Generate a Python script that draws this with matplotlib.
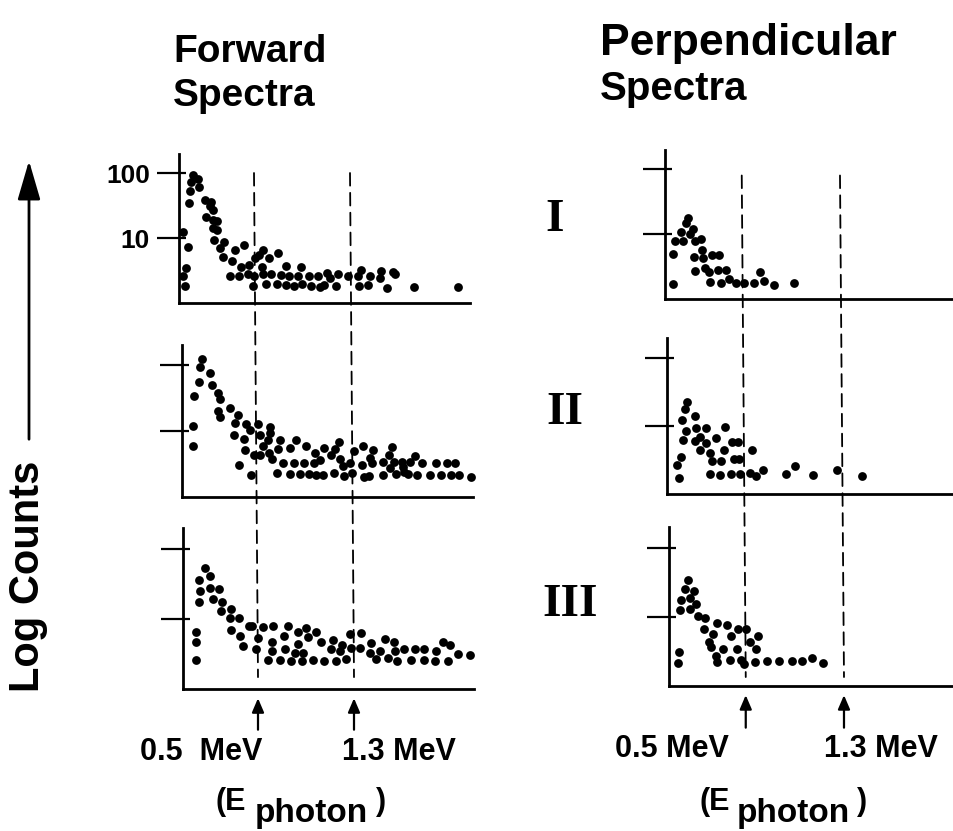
import matplotlib

matplotlib.use("Agg")
import matplotlib.pyplot as plt
from matplotlib.patches import ConnectionPatch, FancyArrowPatch


plt.rcParams["font.family"] = ["Liberation Sans", "DejaVu Sans"]
plt.rcParams["font.weight"] = "bold"

FIG_W, FIG_H = 954, 831

# x axis is in analyser channels, y axis in log10(counts)
X_MAX = 97
Y_MAX = 2.3
MARKER_CHANNELS = [25, 57]          # 0.5 MeV and 1.3 MeV
MARKER_LABELS = ["0.5  MeV", "1.3 MeV"]
ROW_LABELS = ["I", "II", "III"]
Y_TICKS = [1, 2]
Y_TICK_LABELS = ["10", "100"]

# ---- Forward spectra ----
fwd1_ch = [4.6, 6.2, 3.9, 6.8, 3.7, 3.3, 8.7, 10.7, 10.3, 11.2, 9.0, 11.4, 12.6, 11.2, 12.8,
           11.8, 15.0, 13.7, 14.6, 17.6, 18.7, 21.7, 20.6, 23.4, 25.3, 26.8, 27.9, 30.1, 33.1,
           27.6, 17.0, 20.1, 23.1, 25.0, 24.8, 28.1, 30.7, 29.0, 32.6, 33.9, 35.6, 36.8, 35.7,
           38.4, 39.8, 40.9, 40.6, 43.4, 43.9, 46.4, 47.0, 48.3, 49.2, 50.3, 52.3, 53.0, 56.4,
           59.8, 60.6, 60.1, 63.7, 63.1, 67.3, 67.0, 69.2, 71.2, 72.0, 78.3, 93.1,
           1.4, 3.1, 2.3, 1.4, 2.0]
fwd1_log = [1.97, 1.91, 1.86, 1.78, 1.72, 1.54, 1.58, 1.55, 1.49, 1.43, 1.32, 1.28, 1.26, 1.15,
            1.12, 0.97, 0.94, 0.85, 0.71, 0.64, 0.81, 0.90, 0.56, 0.59, 0.69, 0.74, 0.81, 0.69,
            0.77, 0.55, 0.42, 0.41, 0.44, 0.42, 0.26, 0.44, 0.45, 0.29, 0.29, 0.43, 0.28, 0.42,
            0.57, 0.26, 0.42, 0.30, 0.56, 0.41, 0.26, 0.42, 0.25, 0.27, 0.46, 0.39, 0.26, 0.45,
            0.42, 0.42, 0.51, 0.26, 0.42, 0.27, 0.50, 0.39, 0.23, 0.47, 0.45, 0.24, 0.24,
            1.10, 0.86, 0.54, 0.41, 0.26]

fwd2_ch = [6.7, 5.9, 5.6, 4.1, 3.7, 3.7, 9.2, 10.1, 11.9, 12.6, 12.0, 12.8, 15.9, 18.7, 17.8,
           17.2, 21.4, 22.6, 20.6, 20.9, 18.9, 23.0, 25.2, 26.1, 23.9, 25.9, 29.2, 29.2, 28.6,
           27.0, 28.9, 30.0, 31.9, 32.6, 33.7, 31.7, 35.9, 37.4, 38.1, 35.9, 39.4, 40.6, 41.2,
           42.2, 43.9, 44.2, 46.1, 44.8, 47.0, 47.4, 49.7, 50.8, 52.2, 51.1, 52.6, 53.7, 54.1,
           56.1, 56.7, 57.4, 60.3, 60.0, 60.6, 62.2, 62.6, 63.7, 63.3, 67.0, 67.0, 68.9, 70.0,
           69.2, 70.8, 71.4, 73.3, 73.7, 74.1, 75.2, 76.1, 77.8, 80.0, 78.3, 82.6, 84.8, 86.4,
           88.3, 89.8, 91.1, 92.2, 96.3]
fwd2_log = [2.09, 1.97, 1.74, 1.53, 1.08, 0.78, 1.88, 1.69, 1.58, 1.48, 1.31, 1.21, 1.35, 1.25,
            1.12, 0.94, 1.10, 1.01, 0.88, 0.71, 0.48, 0.34, 1.10, 0.94, 0.63, 0.63, 1.06, 0.97,
            0.86, 0.78, 0.67, 0.57, 0.73, 0.87, 0.52, 0.37, 0.74, 0.52, 0.86, 0.35, 0.35, 0.52,
            0.78, 0.35, 0.52, 0.67, 0.56, 0.33, 0.33, 0.74, 0.63, 0.37, 0.83, 0.73, 0.57, 0.47,
            0.32, 0.52, 0.37, 0.69, 0.77, 0.49, 0.30, 0.32, 0.59, 0.71, 0.51, 0.53, 0.33, 0.64,
            0.76, 0.44, 0.53, 0.35, 0.53, 0.45, 0.38, 0.35, 0.53, 0.62, 0.51, 0.34, 0.34, 0.51,
            0.34, 0.51, 0.34, 0.51, 0.33, 0.30]

fwd3_ch = [7.2, 5.3, 5.6, 5.3, 8.9, 8.9, 12.0, 10.0, 13.1, 12.8, 15.9, 15.6, 18.7, 16.1, 19.1,
           20.0, 22.0, 23.1, 24.2, 25.0, 26.7, 30.0, 29.6, 29.8, 28.3, 32.4, 33.6, 33.9, 35.0,
           36.1, 38.3, 38.3, 37.2, 40.0, 39.8, 41.1, 41.7, 44.2, 43.3, 46.1, 46.9, 50.0, 49.4,
           51.1, 52.2, 53.1, 54.4, 55.8, 56.1, 59.4, 58.9, 62.2, 62.8, 64.2, 65.6, 67.2, 68.3,
           70.2, 70.6, 71.3, 73.6, 76.1, 77.2, 80.2, 80.2, 84.2, 83.9, 86.7, 88.3, 88.9, 91.7,
           95.8, 4.4, 4.2, 4.4]
fwd3_log = [1.73, 1.56, 1.40, 1.24, 1.62, 1.44, 1.43, 1.28, 1.25, 1.11, 1.14, 1.01, 1.01, 0.85,
            0.76, 0.62, 0.90, 0.90, 0.57, 0.73, 0.89, 0.90, 0.67, 0.54, 0.41, 0.42, 0.76, 0.57,
            0.90, 0.40, 0.81, 0.65, 0.51, 0.51, 0.40, 0.87, 0.75, 0.81, 0.41, 0.67, 0.40, 0.70,
            0.57, 0.40, 0.54, 0.63, 0.43, 0.78, 0.59, 0.80, 0.59, 0.52, 0.66, 0.43, 0.55, 0.71,
            0.45, 0.67, 0.55, 0.40, 0.57, 0.41, 0.57, 0.57, 0.41, 0.55, 0.40, 0.67, 0.40, 0.63,
            0.50, 0.49, 0.82, 0.67, 0.41]

# ---- Perpendicular spectra ----
perp1_ch = [7.5, 6.9, 5.2, 3.3, 6.0, 2.7, 8.2, 9.1, 9.9, 11.8, 12.1, 9.6, 12.4, 15.4, 17.6,
            9.9, 12.9, 14.3, 17.3, 19.8, 14.5, 18.1, 20.9, 23.1, 25.8, 28.9, 31.1, 32.4, 35.5,
            41.9, 2.5]
perp1_log = [1.25, 1.17, 1.03, 0.90, 0.89, 0.70, 1.00, 1.08, 0.90, 0.93, 0.76, 0.64, 0.63, 0.67,
             0.68, 0.43, 0.48, 0.41, 0.45, 0.45, 0.26, 0.24, 0.31, 0.24, 0.24, 0.24, 0.41, 0.28,
             0.21, 0.24, 0.23]

perp2_ch = [6.6, 5.8, 5.0, 9.0, 6.1, 5.2, 9.6, 12.6, 10.9, 9.0, 12.8, 15.9, 18.8, 10.9, 14.1,
            18.5, 21.3, 23.2, 14.5, 17.7, 21.7, 23.5, 27.8, 4.7, 3.3, 3.9, 13.9, 17.4, 21.0,
            23.7, 27.0, 28.9, 31.3, 38.7, 41.6, 47.6, 55.4, 63.4]
perp2_log = [1.36, 1.25, 1.09, 1.15, 0.92, 0.80, 0.97, 0.97, 0.84, 0.78, 0.75, 0.82, 0.98, 0.65,
             0.61, 0.64, 0.77, 0.77, 0.49, 0.49, 0.52, 0.51, 0.64, 0.55, 0.42, 0.24, 0.29, 0.28,
             0.29, 0.29, 0.31, 0.26, 0.35, 0.29, 0.41, 0.28, 0.36, 0.26]

perp3_ch = [6.2, 5.1, 8.0, 7.0, 4.0, 8.9, 6.7, 3.5, 9.5, 11.6, 11.3, 15.7, 18.9, 14.3, 13.0,
            13.8, 20.3, 22.5, 25.0, 29.0, 26.5, 28.5, 17.6, 22.0, 15.2, 15.7, 19.8, 23.6, 24.3,
            27.9, 32.0, 35.9, 40.2, 43.2, 46.7, 50.2, 3.3, 2.9]
perp3_log = [1.53, 1.40, 1.37, 1.28, 1.24, 1.19, 1.11, 1.10, 1.01, 0.99, 0.83, 0.92, 0.88, 0.76,
             0.64, 0.57, 0.73, 0.82, 0.83, 0.73, 0.64, 0.53, 0.53, 0.54, 0.43, 0.35, 0.37, 0.37,
             0.32, 0.35, 0.36, 0.36, 0.36, 0.36, 0.40, 0.34, 0.50, 0.34]

FORWARD = [(fwd1_ch, fwd1_log), (fwd2_ch, fwd2_log), (fwd3_ch, fwd3_log)]
PERPENDICULAR = [(perp1_ch, perp1_log), (perp2_ch, perp2_log), (perp3_ch, perp3_log)]

# panel geometry in pixels: left edge, y of zero line, pixels per decade, pixels per channel
FORWARD_BOXES = [(179, 303, 65, 3.0), (182, 497, 66, 3.0), (183, 689, 70, 3.0)]
PERP_BOXES = [(665, 299, 65, 3.07), (667, 494, 68, 3.07), (669, 686, 69, 3.07)]


def fx(px):
    return px / FIG_W


def fy(py):
    return 1 - py / FIG_H


def add_panel(fig, box, tick_labels=False):
    left, base, decade, per_ch = box
    ax = fig.add_axes([fx(left), fy(base), X_MAX * per_ch / FIG_W, Y_MAX * decade / FIG_H])
    ax.set_xlim(0, X_MAX)
    ax.set_ylim(0, Y_MAX)
    ax.patch.set_visible(False)
    for side in ("top", "right"):
        ax.spines[side].set_visible(False)
    for side in ("left", "bottom"):
        ax.spines[side].set_linewidth(2.0)
    ax.set_xticks([])
    ax.yaxis.remove_overlapping_locs = False
    ax.set_yticks(Y_TICKS)
    ax.set_yticks(Y_TICKS, minor=True)
    ax.tick_params(axis="y", which="major", direction="out", length=16, width=1.6, pad=5)
    ax.tick_params(axis="y", which="minor", direction="in", length=5, width=1.6)
    if tick_labels:
        ax.set_yticklabels(Y_TICK_LABELS, fontsize=19, fontweight="bold")
    else:
        ax.set_yticklabels([])
    return ax


def draw_markers(fig, axes, y_top, y_bottom, arrow_tip, arrow_tail):
    for ch in MARKER_CHANNELS:
        line = ConnectionPatch(xyA=(ch, y_top), coordsA=axes[0].transData,
                               xyB=(ch, y_bottom), coordsB=axes[-1].transData,
                               color="black", linewidth=1.3, linestyle=(0, (7, 4)))
        fig.add_artist(line)
        axes[-1].annotate("", xy=(ch, arrow_tip), xytext=(ch, arrow_tail),
                          xycoords=axes[-1].get_xaxis_transform(),
                          textcoords=axes[-1].get_xaxis_transform(),
                          arrowprops=dict(arrowstyle="-|>,head_length=0.7,head_width=0.3",
                                          mutation_scale=12, color="black", lw=1.6))


def main() -> None:
    fig = plt.figure(figsize=(FIG_W / 100, FIG_H / 100), dpi=100)

    fwd_axes = []
    for i, (box, (ch, lc)) in enumerate(zip(FORWARD_BOXES, FORWARD)):
        ax = add_panel(fig, box, tick_labels=(i == 0))
        ax.scatter(ch, lc, s=40, color="black", linewidths=0, clip_on=False)
        fwd_axes.append(ax)

    perp_axes = []
    for box, (ch, lc) in zip(PERP_BOXES, PERPENDICULAR):
        ax = add_panel(fig, box)
        ax.scatter(ch, lc, s=40, color="black", linewidths=0, clip_on=False)
        perp_axes.append(ax)

    draw_markers(fig, fwd_axes, 2.0, 0.17, -0.04, -0.27)
    draw_markers(fig, perp_axes, 1.9, 0.13, -0.04, -0.28)

    # titles
    title_kw = dict(fontweight="bold", ha="left", va="baseline")
    fig.text(fx(173), fy(62), "Forward", fontsize=28, **title_kw)
    fig.text(fx(173), fy(106), "Spectra", fontsize=28, **title_kw)
    fig.text(fx(600), fy(55), "Perpendicular", fontsize=32, **title_kw)
    fig.text(fx(600), fy(100), "Spectra", fontsize=29, **title_kw)

    # row numerals
    for label, (px, py) in zip(ROW_LABELS, [(555, 220), (565, 413), (570, 605)]):
        fig.text(fx(px), fy(py), label, fontsize=34, fontweight="bold",
                 family=["Liberation Serif", "DejaVu Serif"], ha="center", va="center")

    # energy labels under the arrows
    lab_kw = dict(fontsize=22, fontweight="bold", ha="left", va="baseline")
    for text, px in zip(MARKER_LABELS, [140, 342]):
        fig.text(fx(px), fy(760), text, **lab_kw)
    for text, px in zip(["0.5 MeV", "1.3 MeV"], [615, 824]):
        fig.text(fx(px), fy(757), text, **lab_kw)

    sub_kw = dict(lab_kw, fontsize=24)
    for x_open, x_sub, x_close in [(216, 255, 376), (700, 737, 857)]:
        fig.text(fx(x_open), fy(810), "(E", **lab_kw)
        fig.text(fx(x_sub), fy(822), "photon", **sub_kw)
        fig.text(fx(x_close), fy(810), ")", **lab_kw)

    # y label with arrow
    fig.text(fx(28), fy(576), "Log Counts", fontsize=30, fontweight="bold",
             rotation=90, ha="center", va="center")
    fig.add_artist(FancyArrowPatch((fx(29), fy(442)), (fx(29), fy(158)),
                                   transform=fig.transFigure,
                                   arrowstyle="-|>,head_length=1.2,head_width=0.35",
                                   mutation_scale=20, color="black", lw=2.0))

    fig.savefig("out.png", dpi=100)


if __name__ == "__main__":
    main()
